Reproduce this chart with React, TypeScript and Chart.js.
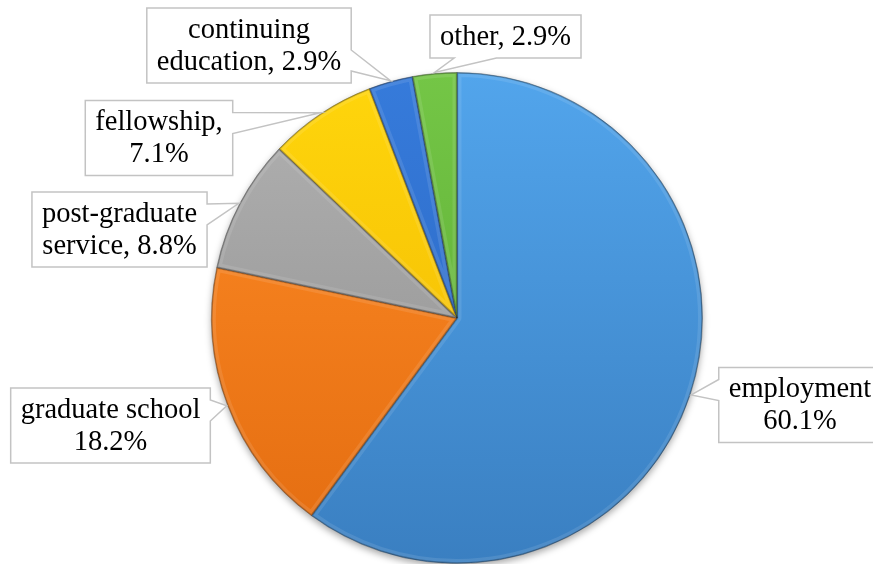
import { useEffect, useRef } from 'react';
import { Chart, registerables } from 'chart.js';

Chart.register(...registerables);

// ---- data ----
const categories = ['employment', 'graduate school', 'post-graduate service', 'fellowship', 'continuing education', 'other'];
const values = [60.1, 18.2, 8.8, 7.1, 2.9, 2.9];
const labelLines: string[][] = [
  [categories[0], `${values[0]}%`],
  [categories[1], `${values[1]}%`],
  ['post-graduate', `service, ${values[2]}%`],
  [`${categories[3]},`, `${values[3]}%`],
  ['continuing', `education, ${values[4]}%`],
  [`${categories[5]}, ${values[5]}%`],
];

// ---- styles / layout ----
const W = 873;
const H = 564;
const topColors = ['#52a5ec', '#ff8c26', '#b2b2b2', '#ffd60c', '#367bdb', '#74c646'];
const bottomColors = ['#3a7fc1', '#e36c10', '#8c8c8c', '#f0b400', '#2963bd', '#58a631'];
const labelCenters: [number, number][] = [
  [800, 405],
  [110.5, 425.5],
  [119.5, 229.5],
  [159, 138],
  [249, 45.5],
  [505.5, 36.5],
];
const FONT_SIZE = 28.5;
const LINE_H = 32;
const PAD_X = 10;
const PAD_Y = 5.5;

const shadowPlugin = {
  id: 'pieShadow',
  beforeDatasetsDraw(chart: any) {
    const meta = chart.getDatasetMeta(0);
    const a = meta.data[0];
    if (!a) return;
    const { x, y, outerRadius } = a.getProps(['x', 'y', 'outerRadius'], true);
    const ctx = chart.ctx;
    ctx.save();
    ctx.shadowColor = 'rgba(0,0,0,0.35)';
    ctx.shadowBlur = 7;
    ctx.shadowOffsetY = 3;
    ctx.fillStyle = '#ffffff';
    ctx.beginPath();
    ctx.arc(x, y, outerRadius, 0, Math.PI * 2);
    ctx.fill();
    ctx.restore();
  },
  afterDatasetsDraw(chart: any) {
    const meta = chart.getDatasetMeta(0);
    const ctx = chart.ctx;
    meta.data.forEach((arc: any) => {
      const { x, y, startAngle, endAngle, outerRadius } = arc.getProps(['x', 'y', 'startAngle', 'endAngle', 'outerRadius'], true);
      ctx.save();
      ctx.beginPath();
      ctx.moveTo(x, y);
      ctx.arc(x, y, outerRadius, startAngle, endAngle);
      ctx.closePath();
      ctx.clip();
      ctx.lineJoin = 'round';
      ctx.strokeStyle = 'rgba(255,255,255,0.10)';
      ctx.lineWidth = 9;
      ctx.stroke();
      ctx.strokeStyle = 'rgba(0,0,0,0.22)';
      ctx.lineWidth = 2.5;
      ctx.stroke();
      ctx.restore();
    });
  },
};

const labelPlugin = {
  id: 'calloutLabels',
  afterDraw(chart: any) {
    const meta = chart.getDatasetMeta(0);
    const ctx = chart.ctx;
    ctx.save();
    ctx.font = `${FONT_SIZE}px "Liberation Serif", "Times New Roman", serif`;
    meta.data.forEach((arc: any, i: number) => {
      const { x, y, startAngle, endAngle, outerRadius } = arc.getProps(['x', 'y', 'startAngle', 'endAngle', 'outerRadius'], true);
      const mid = (startAngle + endAngle) / 2;
      const tipR = outerRadius + 1;
      const tx = x + Math.cos(mid) * tipR;
      const ty = y + Math.sin(mid) * tipR;
      const lines = labelLines[i];
      const tw = Math.max(...lines.map((l) => ctx.measureText(l).width));
      const bw = tw + 2 * PAD_X;
      const bh = lines.length * LINE_H + 2 * PAD_Y;
      const [cx, cy] = labelCenters[i];
      const l = cx - bw / 2, r = cx + bw / 2, t = cy - bh / 2, b = cy + bh / 2;
      let side = 'bottom';
      if (tx < l) side = 'left';
      else if (tx > r) side = 'right';
      else if (ty < t) side = 'top';
      let s0 = 0, s1 = 0;
      if (side === 'left' || side === 'right') {
        if (ty < cy) { s0 = t + 0.16 * bh; s1 = t + 0.44 * bh; }
        else { s0 = b - 0.44 * bh; s1 = b - 0.16 * bh; }
      } else {
        if (tx < cx) { s0 = l + 0.16 * bw; s1 = l + 0.44 * bw; }
        else { s0 = r - 0.44 * bw; s1 = r - 0.16 * bw; }
      }
      ctx.beginPath();
      ctx.moveTo(l, t);
      if (side === 'top') { ctx.lineTo(s0, t); ctx.lineTo(tx, ty); ctx.lineTo(s1, t); }
      ctx.lineTo(r, t);
      if (side === 'right') { ctx.lineTo(r, s0); ctx.lineTo(tx, ty); ctx.lineTo(r, s1); }
      ctx.lineTo(r, b);
      if (side === 'bottom') { ctx.lineTo(s1, b); ctx.lineTo(tx, ty); ctx.lineTo(s0, b); }
      ctx.lineTo(l, b);
      if (side === 'left') { ctx.lineTo(l, s1); ctx.lineTo(tx, ty); ctx.lineTo(l, s0); }
      ctx.closePath();
      ctx.fillStyle = '#ffffff';
      ctx.fill();
      ctx.strokeStyle = '#c3c3c3';
      ctx.lineWidth = 1.5;
      ctx.stroke();
      ctx.fillStyle = '#000000';
      ctx.textAlign = 'center';
      ctx.textBaseline = 'middle';
      lines.forEach((line, k) => {
        ctx.fillText(line, cx, cy + (k - (lines.length - 1) / 2) * LINE_H + 1);
      });
    });
    ctx.restore();
  },
};

export default function App() {
  const ref = useRef<HTMLCanvasElement>(null);
  useEffect(() => {
    if (!ref.current) return;
    const chart = new Chart(ref.current, {
      type: 'pie',
      data: {
        labels: categories,
        datasets: [
          {
            data: values,
            backgroundColor: (c: any) => {
              const area = c.chart.chartArea;
              const i = c.dataIndex;
              if (!area) return topColors[i];
              const g = c.chart.ctx.createLinearGradient(0, area.top, 0, area.bottom);
              g.addColorStop(0, topColors[i]);
              g.addColorStop(1, bottomColors[i]);
              return g;
            },
            borderColor: 'rgba(0,0,0,0.3)',
            borderWidth: 1,
          },
        ],
      },
      options: {
        responsive: false,
        animation: false,
        events: [],
        layout: { padding: { left: 211, right: 170, top: 72, bottom: 0 } },
        plugins: {
          legend: { display: false },
          tooltip: { enabled: false },
          title: { display: false },
        },
      },
      plugins: [shadowPlugin, labelPlugin],
    });
    return () => chart.destroy();
  }, []);
  return (
    <div style={{ position: 'absolute', left: 0, top: 0, width: W, height: H, background: '#ffffff', overflow: 'hidden' }}>
      <canvas ref={ref} width={W} height={H} style={{ width: W, height: H, display: 'block' }} />
    </div>
  );
}
